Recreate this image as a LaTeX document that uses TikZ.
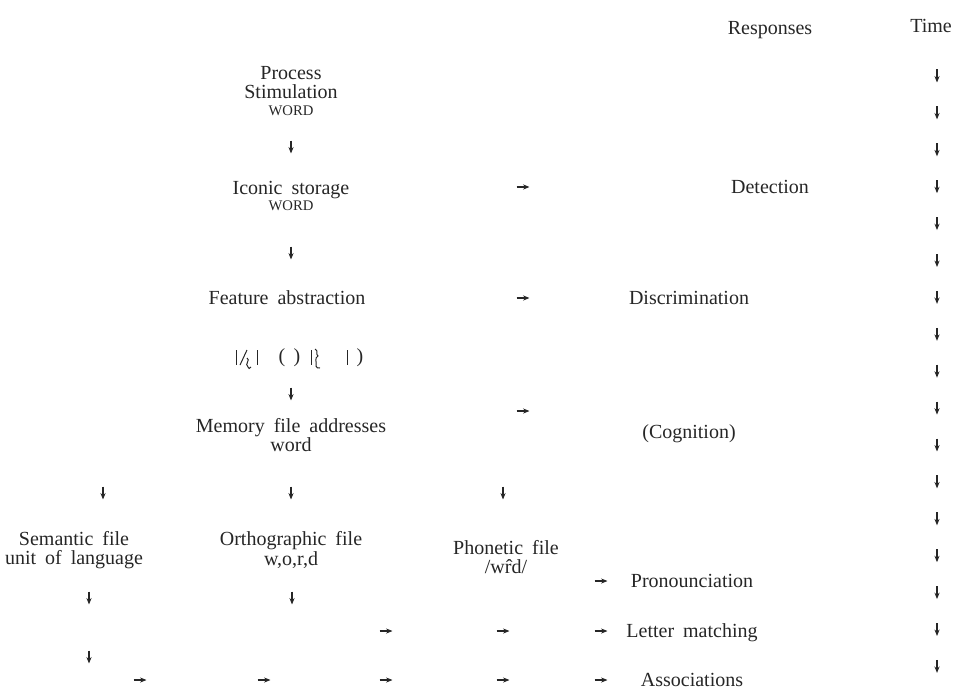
\documentclass[tikz,border=0pt]{standalone}
\usepackage{fontspec}
\setmainfont{Liberation Serif}
\usetikzlibrary{arrows.meta}
\newcommand{\myDn}[2]{\draw[garr] (#1,#2-6.5) -- (#1,#2+6.5);}
\newcommand{\myRt}[2]{\draw[garr] (#1-6.5,#2) -- (#1+6.5,#2);}
\begin{document}
\begin{tikzpicture}[x=0.75pt,y=-0.75pt,
  lbl/.style={font={\fontsize{15}{14.6}\selectfont\spaceskip=.45em plus .1em\relax}, align=center, inner sep=0pt, text=black!85},
  garr/.style={-{Stealth[length=4.8pt,width=3.8pt]}, line width=0.95pt, black!85},
  glyph/.style={line width=0.75pt, black!85}
]
\useasboundingbox (0,0) rectangle (953,692);
% headers
\node[lbl, anchor=mid] (resp) at (770,31) {Responses};
\node[lbl, anchor=mid] (time) at (931,29) {Time};
% left column
\node[lbl] (proc) at (291,91) {Process\\Stimulation\\[-2pt]{\fontsize{11}{11}\selectfont WORD}};
\node[lbl] (icon) at (291,196) {Iconic storage\\[-2pt]{\fontsize{11}{11}\selectfont WORD}};
\node[lbl, anchor=mid] (feat) at (287,301) {Feature abstraction};
\node[lbl] (mem) at (291,435) {Memory file addresses\\word};
\node[lbl] (sem) at (74,550) {Semantic file\\unit of language};
\node[lbl] (orth) at (291,550) {Orthographic file\\w,o,r,d};
\node[lbl] (phon) at (506,557) {Phonetic file\\/w\^{r}d/};
% responses
\node[lbl, anchor=mid] (det) at (770,190) {Detection};
\node[lbl, anchor=mid] (disc) at (689,301) {Discrimination};
\node[lbl, anchor=mid] (cog) at (689,435) {(Cognition)};
\node[lbl, anchor=mid] (pron) at (692,584) {Pronounciation};
\node[lbl, anchor=mid] (lett) at (692,634) {Letter matching};
\node[lbl, anchor=mid] (assoc) at (692,683) {Associations};
% feature glyphs
\draw[glyph] (236,350) -- (236,365);
\draw[glyph] (240,365) -- (247,350);
\draw[glyph] (247,358) .. controls (251,360) and (244,364) .. (248,367) .. controls (249,369) .. (251,367);
\draw[glyph] (257,350) -- (257,365);
\node[lbl, anchor=mid] (lp) at (282,359) {(};
\node[lbl, anchor=mid] (rp) at (297,359) {)};
\draw[glyph] (311,350) -- (311,365);
\draw[glyph] (315,349) .. controls (319,351) and (315,354) .. (318,356) .. controls (314,358) and (317,362) .. (316,366) .. controls (317,368) .. (320,368);
\draw[glyph] (347,350) -- (347,365);
\node[lbl, anchor=mid] (rp2) at (360,359) {)};
% left flow arrows
\myDn{291}{147}
\myDn{291}{253}
\myDn{291}{394}
\myDn{103}{493}
\myDn{291}{493}
\myDn{503}{493}
\myDn{89}{598}
\myDn{292}{598}
\myDn{89}{657}
% right arrows
\myRt{523}{187}
\myRt{523}{298}
\myRt{523}{411}
\myRt{601}{581}
\myRt{386}{631}
\myRt{503}{631}
\myRt{601}{631}
\myRt{140}{680}
\myRt{264}{680}
\myRt{386}{680}
\myRt{503}{680}
\myRt{601}{680}
% time arrows
\foreach \i in {0,...,16}{
  \pgfmathsetmacro{\yy}{76+\i*36.9}
  \myDn{937}{\yy}
}
\end{tikzpicture}
\end{document}
